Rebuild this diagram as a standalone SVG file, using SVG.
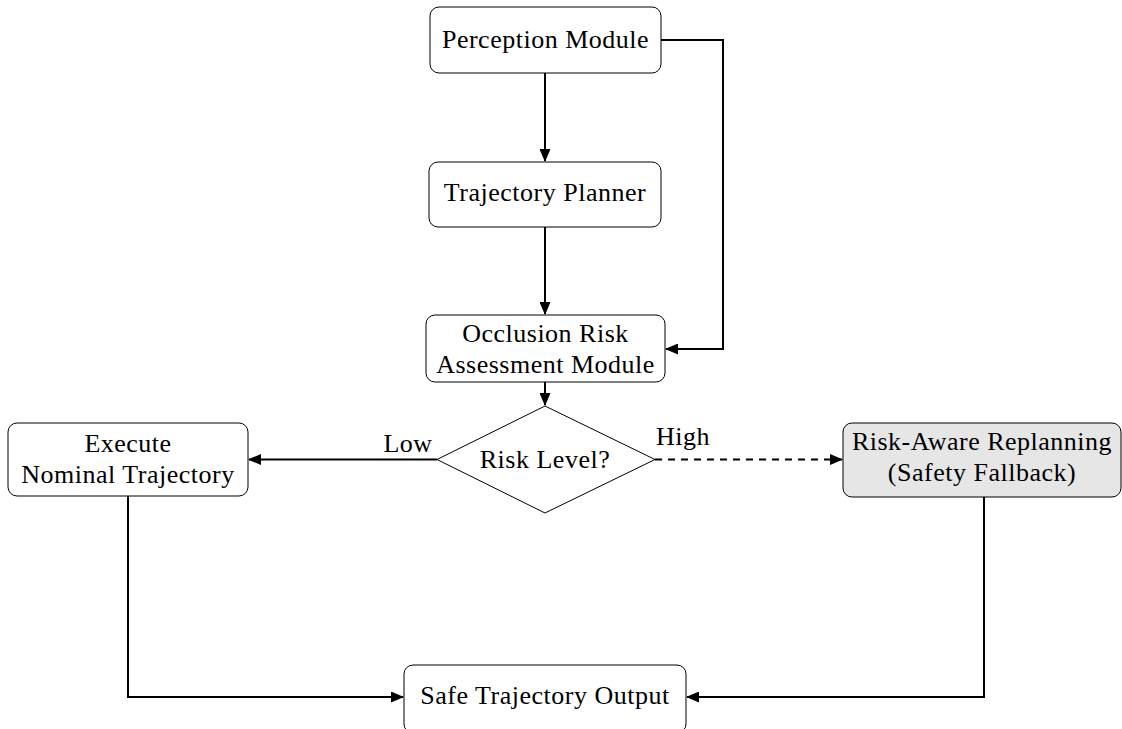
<svg xmlns="http://www.w3.org/2000/svg" width="1122" height="729" viewBox="0 0 1122 729">
<style>
.box{fill:#fff;stroke:#000;stroke-width:1}
.gray{fill:#e6e6e6}
text{font-family:"Liberation Serif","Times New Roman",serif;font-size:26px;letter-spacing:0.5px;fill:#000;text-anchor:middle}
.c{fill:none;stroke:#000;stroke-width:2}
.d{stroke-dasharray:7,6}
</style>
<defs>
<marker id="ah" markerWidth="13" markerHeight="11" refX="12" refY="5.5" orient="auto" markerUnits="userSpaceOnUse">
<path d="M0,0 L13,5.5 L0,11 Z" fill="#000"/>
</marker>
</defs>
<rect width="1122" height="729" fill="#fff"/>
<g id="perception"><rect class="box" x="430" y="7" width="231" height="66" rx="9"/><text x="545.5" y="48">Perception Module</text></g>
<g id="planner"><rect class="box" x="429" y="162" width="232" height="65" rx="9"/><text x="545" y="201">Trajectory Planner</text></g>
<g id="occlusion"><rect class="box" x="426" y="315" width="239" height="67" rx="9"/><text x="545.5" y="342">Occlusion Risk</text><text x="545.5" y="373">Assessment Module</text></g>
<g id="decision"><polygon class="box" points="545,406 655,459.5 545,513 437,459.5"/><text x="545" y="468">Risk Level?</text></g>
<g id="execute"><rect class="box" x="8" y="423" width="240" height="73" rx="9"/><text x="128" y="452">Execute</text><text x="128" y="483">Nominal Trajectory</text></g>
<g id="replanning"><rect class="box gray" x="843" y="423" width="278" height="74" rx="9"/><text x="982" y="450">Risk-Aware Replanning</text><text x="982" y="481">(Safety Fallback)</text></g>
<g id="output"><rect class="box" x="404" y="665" width="282" height="68" rx="9"/><text x="545" y="704">Safe Trajectory Output</text></g>
<g id="connectors">
<line class="c" x1="545" y1="73" x2="545" y2="161" marker-end="url(#ah)"/>
<line class="c" x1="545" y1="227" x2="545" y2="314" marker-end="url(#ah)"/>
<polyline class="c" points="661,40 723,40 723,349 666,349" marker-end="url(#ah)"/>
<line class="c" x1="545" y1="382" x2="545" y2="405" marker-end="url(#ah)"/>
<line class="c" x1="437" y1="459.5" x2="249" y2="459.5" marker-end="url(#ah)"/>
<line class="c d" x1="655" y1="459.5" x2="842" y2="459.5" marker-end="url(#ah)"/>
<polyline class="c" points="128,496 128,697 403,697" marker-end="url(#ah)"/>
<polyline class="c" points="984,497 984,697 687,697" marker-end="url(#ah)"/>
<text x="408" y="452">Low</text>
<text x="683" y="445">High</text>
</g>
</svg>
